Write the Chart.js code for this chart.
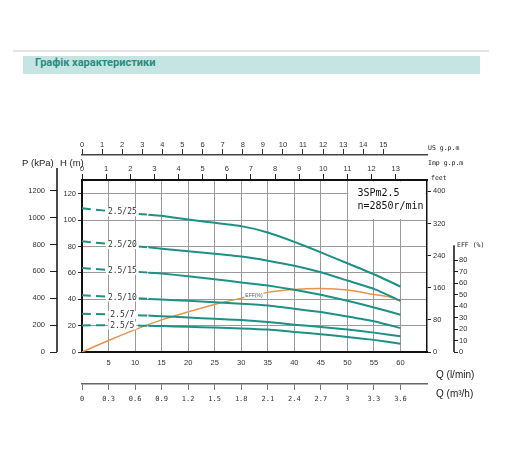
<!DOCTYPE html>
<html lang="uk">
<head>
<meta charset="utf-8">
<title>Графік характеристики</title>
<script src="https://cdn.jsdelivr.net/npm/chart.js@4.4.1/dist/chart.umd.min.js"></script>
<style>
  body { margin: 0; background: #fff; }
  .wrap { position: relative; width: 512px; height: 451px; overflow: hidden; }
  .rule { position: absolute; left: 13px; top: 50px; width: 476px; height: 2px; background: #e4e4e4; }
  .band { position: absolute; left: 23px; top: 56px; width: 457px; height: 18px; background: #c6e4e1; z-index: 2; }
  .band span { position: absolute; left: 12px; top: 0; line-height: 18px; font: bold 11px Roboto, sans-serif; color: #2a8c80; }
  canvas { position: absolute; left: 0; top: 0; }
</style>
</head>
<body>
<div class="wrap">
  <div class="rule"></div>
  <div class="band"><span>Графік характеристики</span></div>
  <canvas id="pumpChart" width="512" height="451"></canvas>
</div>
<script>
// flow in l/min, head in m, efficiency in %
const flow = [0, 5, 10, 12.5, 15, 20, 25, 30, 35, 40, 45, 50, 55, 60];
const models = ['2.5/25', '2.5/20', '2.5/15', '2.5/10', '2.5/7', '2.5/5'];
const head25 = [109, 107, 105, 104.2, 103.3, 100.5, 98, 95.5, 90.7, 83.6, 75.6, 67.3, 59, 49.7];
const head20 = [84, 82, 80.3, 79.4, 78.4, 76.5, 74.5, 72.4, 69.3, 65.5, 60.5, 54.2, 47.9, 38.9];
const head15 = [63.7, 62.3, 61, 60.2, 59.5, 57.5, 55.2, 52.8, 50.4, 47.2, 43.4, 38.9, 33.8, 28.3];
const head10 = [43, 42, 40.8, 40.3, 39.8, 38.8, 37.8, 36.7, 35.3, 32.8, 30.3, 27, 23.3, 18.2];
const head7 = [29, 28.5, 27.9, 27.6, 27.2, 26.2, 25.2, 24.2, 22.8, 20.7, 19, 17, 14.7, 11.9];
const head5 = [20.2, 20.2, 20.1, 19.9, 19.7, 19.1, 18.5, 17.9, 17, 15.2, 13.5, 11.4, 9.2, 6.2];
const effFlow = [0, 5, 10, 15, 20, 25, 30, 35, 40, 45, 50, 55, 58, 60];
const eff = [0, 10, 19.5, 28, 35, 41.5, 47, 52, 54.5, 55.3, 54, 50.2, 48, 44.4];

// tick labels
const flowTicks = [5, 10, 15, 20, 25, 30, 35, 40, 45, 50, 55, 60];
const m3hTicks = [0, 0.3, 0.6, 0.9, 1.2, 1.5, 1.8, 2.1, 2.4, 2.7, 3, 3.3, 3.6];
const usGpmTicks = [0, 1, 2, 3, 4, 5, 6, 7, 8, 9, 10, 11, 12, 13, 14, 15];
const impGpmTicks = [0, 1, 2, 3, 4, 5, 6, 7, 8, 9, 10, 11, 12, 13];
const headTicks = [0, 20, 40, 60, 80, 100, 120];
const kpaTicks = [0, 200, 400, 600, 800, 1000, 1200];
const feetTicks = [0, 80, 160, 240, 320, 400];
const effTicks = [0, 10, 20, 30, 40, 50, 60, 70, 80];

const Q_MAX = 65;      // l/min at right edge
const H_MAX = 130.5;   // m at top edge
const teal = '#1d9185';

Chart.defaults.font.family = '"Liberation Sans", Arial, sans-serif';
Chart.defaults.color = '#333';

const font = { size: 7.5 };
const mono = { family: '"DejaVu Sans Mono", monospace', size: 7 };
const plain = v => String(v);

// give every axis a fixed size and its own tick list
function fixed(size, list) {
  return {
    afterFit(s) { if (s.isHorizontal()) s.height = size; else s.width = size; },
    afterBuildTicks(s) { s.ticks = list.map(v => ({ value: v })); }
  };
}

const headSets = [head25, head20, head15, head10, head7, head5];
const datasets = headSets.map((vals, i) => ({
  label: models[i],
  data: flow.map((q, k) => ({ x: q, y: vals[k] })),
  xAxisID: 'q',
  yAxisID: 'h',
  borderColor: teal,
  borderWidth: 2,
  pointRadius: 0,
  tension: 0.15,
  segment: { borderDash: c => (c.p1.parsed.x <= 12.5 ? [9, 5] : []) }
}));
datasets.push({
  label: 'EFF (%)',
  data: effFlow.map((q, k) => ({ x: q, y: eff[k] })),
  xAxisID: 'q',
  yAxisID: 'eff',
  borderColor: '#e8924f',
  borderWidth: 1.5,
  pointRadius: 0,
  tension: 0.3
});

const extras = {
  id: 'extras',
  beforeDatasetsDraw(chart) {
    const { ctx, chartArea: a, scales } = chart;
    const x0 = scales.q.getPixelForValue(50);
    const y0 = scales.h.getPixelForValue(100);
    ctx.save();
    ctx.fillStyle = '#fff';
    ctx.fillRect(x0 + 1, a.top + 1.5, a.right - x0 - 2.5, y0 - a.top - 2.5);
    ctx.fillStyle = '#111';
    ctx.font = '10px "DejaVu Sans Mono", monospace';
    ctx.textBaseline = 'middle';
    ctx.fillText('3SPm2.5', x0 + 10, a.top + 13);
    ctx.fillText('n=2850r/min', x0 + 10, a.top + 26);
    ctx.restore();
  },
  afterDatasetsDraw(chart) {
    const { ctx, scales } = chart;
    ctx.save();
    ctx.textAlign = 'center';
    ctx.textBaseline = 'middle';
    ctx.font = '8px "DejaVu Sans Mono", monospace';
    const lx = scales.q.getPixelForValue(7.6);
    models.forEach((name, i) => {
      const pts = chart.getDatasetMeta(i).data;
      const y = (pts[1].y + pts[2].y) / 2;
      const w = ctx.measureText(name).width;
      ctx.fillStyle = '#fff';
      ctx.fillRect(lx - w / 2 - 2, y - 4, w + 4, 8);
      ctx.fillStyle = '#333';
      ctx.fillText(name, lx, y);
    });
    // small label on the efficiency curve
    const ep = chart.getDatasetMeta(models.length).data;
    const ex = scales.q.getPixelForValue(32.4);
    const ey = (ep[6].y + ep[7].y) / 2;
    ctx.font = '5px "Liberation Sans", Arial, sans-serif';
    const ew = ctx.measureText('EFF(%)').width;
    ctx.fillStyle = '#fff';
    ctx.fillRect(ex - ew / 2 - 1, ey - 3, ew + 2, 6);
    ctx.fillStyle = '#555';
    ctx.fillText('EFF(%)', ex, ey);
    ctx.restore();
  },
  afterDraw(chart) {
    const { ctx, chartArea: a, scales } = chart;
    ctx.save();
    ctx.strokeStyle = '#111';
    ctx.lineWidth = 1.5;
    ctx.beginPath();
    ctx.moveTo(scales.kpa.right, a.top - 12);
    ctx.lineTo(scales.kpa.right, a.bottom);
    ctx.moveTo(scales.eff.left, scales.eff.getPixelForValue(93));
    ctx.lineTo(scales.eff.left, scales.eff.getPixelForValue(0));
    ctx.stroke();

    ctx.fillStyle = '#222';
    ctx.textBaseline = 'middle';
    ctx.font = '9.5px "Liberation Sans", Arial, sans-serif';
    ctx.fillText('P (kPa)', 22, a.top - 17);
    ctx.fillText('H (m)', 60, a.top - 17);
    ctx.font = '10px "Liberation Sans", Arial, sans-serif';
    ctx.fillText('Q (l/min)', a.right + 9, scales.m3h.top - 9);
    ctx.fillText('Q (m³/h)', a.right + 9, scales.m3h.top + 10);
    ctx.font = '6.5px "DejaVu Sans Mono", monospace';
    ctx.fillText('US g.p.m', a.right + 1, scales.us.bottom - 7);
    ctx.fillText('Imp g.p.m', a.right + 1, scales.imp.bottom - 17);
    ctx.fillText('feet', a.right + 4, a.top - 2);
    ctx.fillText('EFF (%)', scales.eff.left + 3, scales.eff.getPixelForValue(93));
    ctx.restore();
  }
};

new Chart(document.getElementById('pumpChart'), {
  type: 'line',
  data: { datasets },
  plugins: [extras],
  options: {
    responsive: false,
    animation: false,
    events: [],
    layout: { padding: { left: 22, right: 23, top: 133, bottom: 39 } },
    plugins: { legend: { display: false }, tooltip: { enabled: false } },
    scales: {
      q: {
        type: 'linear', position: 'bottom', weight: 0, min: 0, max: Q_MAX,
        ...fixed(32, flowTicks),
        grid: { color: '#9a9a9a', lineWidth: 1, drawTicks: false },
        border: { color: '#111', width: 2 },
        ticks: { font, padding: 6, autoSkip: false, maxRotation: 0, callback: plain }
      },
      m3h: {
        type: 'linear', position: 'bottom', weight: 1, min: 0, max: Q_MAX * 0.06,
        ...fixed(28, m3hTicks),
        grid: { drawOnChartArea: false, tickLength: 6, color: '#777' },
        border: { color: '#666', width: 1.5 },
        ticks: { font: mono, padding: 5, autoSkip: false, maxRotation: 0, callback: v => String(+v.toFixed(1)) }
      },
      imp: {
        type: 'linear', position: 'top', weight: 0, min: 0, max: Q_MAX / 4.546,
        ...fixed(25, impGpmTicks),
        grid: { drawOnChartArea: false, tickLength: 6, color: '#222' },
        border: { color: '#111', width: 2 },
        ticks: { font, padding: 1, autoSkip: false, maxRotation: 0, callback: plain }
      },
      us: {
        type: 'linear', position: 'top', weight: 1, min: 0, max: Q_MAX / 3.785,
        ...fixed(22, usGpmTicks),
        grid: { drawOnChartArea: false, tickLength: 6, color: '#333' },
        border: { color: '#444', width: 1.5 },
        ticks: { font, padding: 0, autoSkip: false, maxRotation: 0, callback: plain }
      },
      h: {
        type: 'linear', position: 'left', weight: 0, min: 0, max: H_MAX,
        ...fixed(25, headTicks),
        grid: { color: '#9a9a9a', lineWidth: 1, tickLength: 4, tickColor: '#333' },
        border: { color: '#111', width: 2 },
        ticks: { font, padding: 2, callback: plain }
      },
      kpa: {
        type: 'linear', position: 'left', weight: 1, min: 0, max: H_MAX * 9.81,
        ...fixed(35, kpaTicks),
        grid: { drawOnChartArea: false, tickLength: 7, color: '#222' },
        border: { display: false },
        ticks: { font, padding: 5, callback: plain }
      },
      feet: {
        type: 'linear', position: 'right', weight: 0, min: 0, max: H_MAX * 3.2808,
        ...fixed(27, feetTicks),
        grid: { drawOnChartArea: false, tickLength: 4, color: '#222' },
        border: { color: '#111', width: 1.5 },
        ticks: { font, padding: 2, callback: plain }
      },
      eff: {
        type: 'linear', position: 'right', weight: 1, min: 0, max: 150,
        ...fixed(35, effTicks),
        grid: { drawOnChartArea: false, tickLength: 4, color: '#222' },
        border: { display: false },
        ticks: { font, padding: 1, callback: plain }
      }
    }
  }
});
</script>
</body>
</html>
